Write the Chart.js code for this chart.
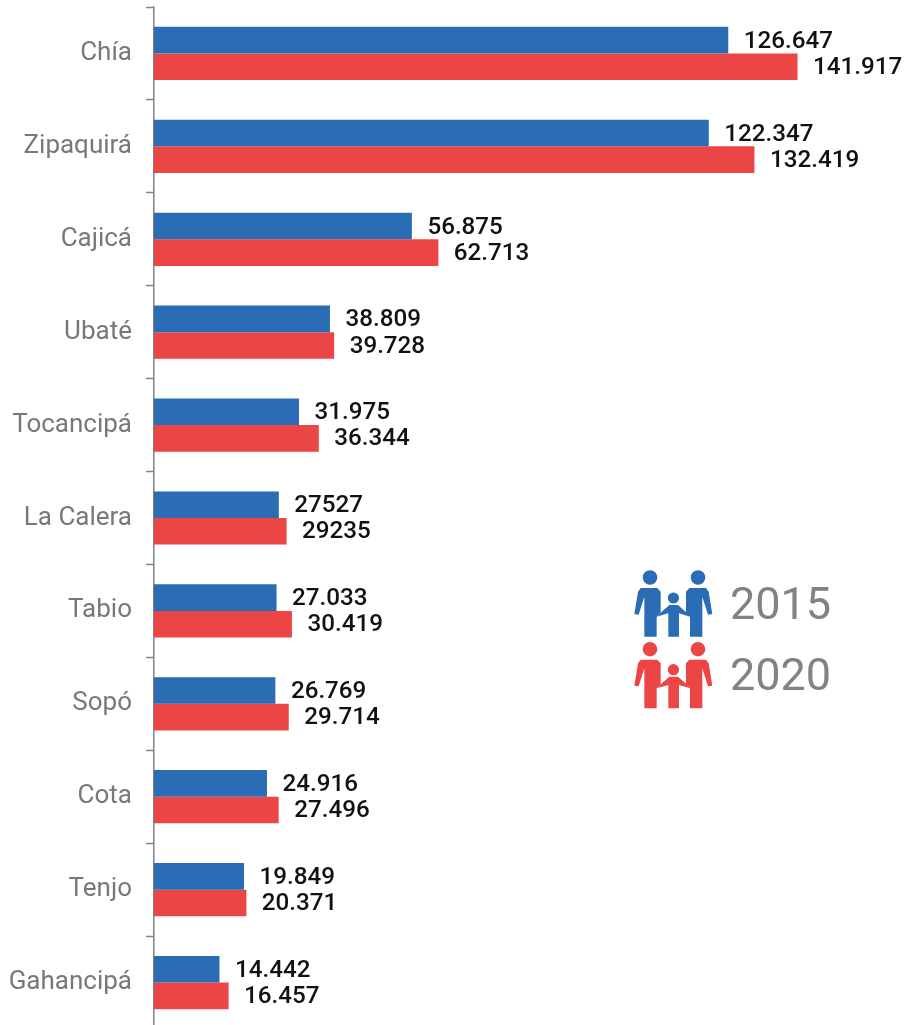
<!DOCTYPE html>
<html>
<head>
<meta charset="utf-8">
<title>Población por municipio</title>
<script src="https://cdn.jsdelivr.net/npm/chart.js@4"></script>
<style>
html, body { margin: 0; padding: 0; background: #fff; overflow: hidden; }
canvas { display: block; }
</style>
</head>
<body>
<canvas id="myChart" width="904" height="1030"></canvas>
<script>
const municipios = ['Chía', 'Zipaquirá', 'Cajicá', 'Ubaté', 'Tocancipá', 'La Calera', 'Tabio', 'Sopó', 'Cota', 'Tenjo', 'Gahancipá'];
const valores2015 = [126647, 122347, 56875, 38809, 31975, 27527, 27033, 26769, 24916, 19849, 14442];
const valores2020 = [141917, 132419, 62713, 39728, 36344, 29235, 30419, 29714, 27496, 20371, 16457];
const etiquetas2015 = ['126.647', '122.347', '56.875', '38.809', '31.975', '27527', '27.033', '26.769', '24.916', '19.849', '14.442'];
const etiquetas2020 = ['141.917', '132.419', '62.713', '39.728', '36.344', '29235', '30.419', '29.714', '27.496', '20.371', '16.457'];
const etiquetas = [etiquetas2015, etiquetas2020];
const maxEje = 165400;

const azul = '#2a6db5';
const rojo = '#ec4545';
const gris = '#808285';

// silueta de un adulto (coordenadas del icono), la del otro lado va en espejo
const adulto = [[62, 84], [112, 84], [122, 95], [122, 158], [110, 170], [110, 230], [73, 230], [73, 110], [56, 164], [43, 162], [54, 95]];
const nino = [[122, 158], [148, 135], [174, 135], [200, 158], [210, 170], [177, 160], [177, 230], [145, 230], [145, 160], [110, 170]];

function poligono(c, puntos, x, y, espejo) {
    c.beginPath();
    puntos.forEach(function (p, i) {
        const px = x + (espejo ? 320 - p[0] : p[0]) / 3;
        const py = y + p[1] / 3;
        if (i == 0) c.moveTo(px, py); else c.lineTo(px, py);
    });
    c.closePath();
    c.fill();
}

function circulo(c, x, y, r) {
    c.beginPath();
    c.arc(x, y, r, 0, Math.PI * 2);
    c.fill();
}

function dibujarFamilia(c, color, x, y) {
    c.fillStyle = color;
    circulo(c, x + 30, y + 17.5, 7.3);
    circulo(c, x + 78, y + 17.5, 7.3);
    circulo(c, x + 53.4, y + 38, 5.6);
    poligono(c, adulto, x, y, false);
    poligono(c, adulto, x, y, true);
    poligono(c, nino, x, y, false);
}

// valores al final de cada barra
const valoresBarras = {
    id: 'valoresBarras',
    afterDatasetsDraw(chart) {
        const c = chart.ctx;
        c.save();
        c.font = '500 24.2px Roboto';
        c.fillStyle = '#111';
        c.textAlign = 'left';
        c.textBaseline = 'middle';
        chart.data.datasets.forEach(function (ds, i) {
            chart.getDatasetMeta(i).data.forEach(function (bar, j) {
                c.fillText(etiquetas[i][j], bar.x + 15.5, bar.y + (i == 0 ? 1.5 : 1));
            });
        });
        c.restore();
    }
};

// leyenda con las familias
const leyendaFamilias = {
    id: 'leyendaFamilias',
    afterDraw(chart) {
        const c = chart.ctx;
        c.save();
        c.font = '45px Roboto';
        c.textAlign = 'left';
        c.textBaseline = 'middle';
        chart.data.datasets.forEach(function (ds, i) {
            const y = 560 + i * 71.7;
            dibujarFamilia(c, ds.backgroundColor, 620, y);
            c.fillStyle = gris;
            c.fillText(ds.label, 730, y + 47.5);
        });
        c.restore();
    }
};

const ctx = document.getElementById('myChart').getContext('2d');
new Chart(ctx, {
    type: 'bar',
    data: {
        labels: municipios,
        datasets: [
            { label: '2015', data: valores2015, backgroundColor: azul, categoryPercentage: 0.573, barPercentage: 1 },
            { label: '2020', data: valores2020, backgroundColor: rojo, categoryPercentage: 0.573, barPercentage: 1 }
        ]
    },
    options: {
        indexAxis: 'y',
        responsive: false,
        animation: false,
        layout: { padding: { top: 7, bottom: 1 } },
        plugins: { legend: { display: false }, tooltip: { enabled: false } },
        scales: {
            x: { display: false, min: 0, max: maxEje },
            y: {
                afterFit(axis) {
                    axis.width = 154;
                    axis.paddingTop = 0;
                    axis.paddingBottom = 0;
                },
                border: { color: gris, width: 1.5 },
                grid: { offset: true, drawOnChartArea: false, tickLength: 8, color: gris, tickWidth: 1.5 },
                ticks: { color: '#77787b', padding: 14, font: { family: 'Roboto', size: 26 } }
            }
        }
    },
    plugins: [valoresBarras, leyendaFamilias]
});
</script>
</body>
</html>
